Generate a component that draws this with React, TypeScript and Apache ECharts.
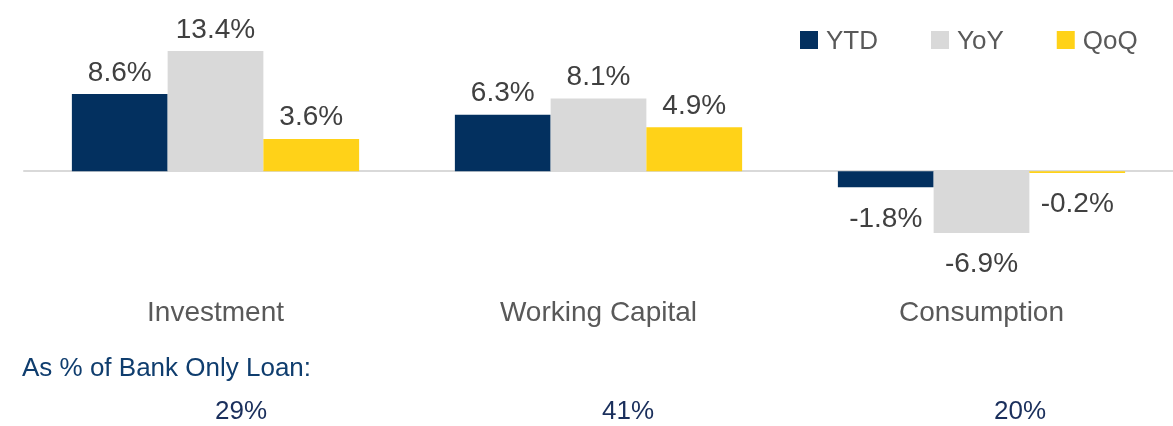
import React, { useEffect, useRef } from "react";
import * as echarts from "echarts";

const categories = ["Investment", "Working Capital", "Consumption"];
const ytd = [8.6, 6.3, -1.8];
const yoy = [13.4, 8.1, -6.9];
const qoq = [3.6, 4.9, -0.2];
const shareOfLoan = ["29%", "41%", "20%"];
const shareTitle = "As % of Bank Only Loan:";

const FONT = "'Liberation Sans', Arial, sans-serif";

function labelFor(v: number) {
  return v.toFixed(1) + "%";
}

function makeData(arr: number[]) {
  return arr.map((v) => ({
    value: v,
    label: {
      show: true,
      position: v >= 0 ? "top" : "bottom",
      distance: v >= 0 ? 9 : 16,
      formatter: labelFor(v),
      color: "#404040",
      fontSize: 28,
      fontFamily: FONT,
    },
  }));
}

export default function App() {
  const ref = useRef<HTMLDivElement>(null);
  useEffect(() => {
    if (!ref.current) return;
    const chart = echarts.init(ref.current, undefined, { renderer: "svg" });
    const shareX = [241, 628, 1020];
    chart.setOption({
      animation: false,
      textStyle: { fontFamily: FONT },
      legend: {
        left: 795,
        top: 22,
        itemWidth: 18,
        itemHeight: 18,
        itemGap: 53,
        icon: "rect",
        textStyle: {
          fontSize: 26,
          color: "#595959",
          fontFamily: FONT,
          padding: [0, 0, 0, 3],
        },
        data: ["YTD", "YoY", "QoQ"],
      },
      grid: { left: 24, right: 0, top: 36.75, bottom: 165.25 },
      xAxis: {
        type: "category",
        data: categories,
        axisLine: { onZero: true, lineStyle: { color: "#D9D9D9", width: 2 } },
        axisTick: { show: false },
        axisLabel: {
          margin: 37,
          fontSize: 28,
          color: "#595959",
          fontFamily: FONT,
        },
      },
      yAxis: {
        type: "value",
        min: -10,
        max: 15,
        interval: 5,
        show: false,
        splitLine: { show: false },
      },
      series: [
        {
          name: "YTD",
          type: "bar",
          data: makeData(ytd),
          itemStyle: { color: "#03305F" },
          barGap: "0%",
          barCategoryGap: "25%",
        },
        {
          name: "YoY",
          type: "bar",
          data: makeData(yoy),
          itemStyle: { color: "#D9D9D9" },
          barGap: "0%",
          barCategoryGap: "25%",
        },
        {
          name: "QoQ",
          type: "bar",
          data: makeData(qoq),
          itemStyle: { color: "#FFD218" },
          barGap: "0%",
          barCategoryGap: "25%",
        },
      ],
      graphic: [
        {
          type: "text",
          left: 22,
          top: 354,
          style: {
            text: shareTitle,
            fontSize: 26,
            fill: "#0F3D6E",
            fontFamily: FONT,
          },
        },
        ...shareOfLoan.map((s, i) => ({
          type: "text",
          x: shareX[i],
          y: 410,
          style: {
            text: s,
            fontSize: 26,
            fill: "#1A2F5C",
            fontFamily: FONT,
            align: "center",
            verticalAlign: "middle",
          },
        })),
      ],
    });
    return () => chart.dispose();
  }, []);
  return (
    <div
      ref={ref}
      style={{ position: "fixed", left: 0, top: 0, width: 1173, height: 426 }}
    />
  );
}
